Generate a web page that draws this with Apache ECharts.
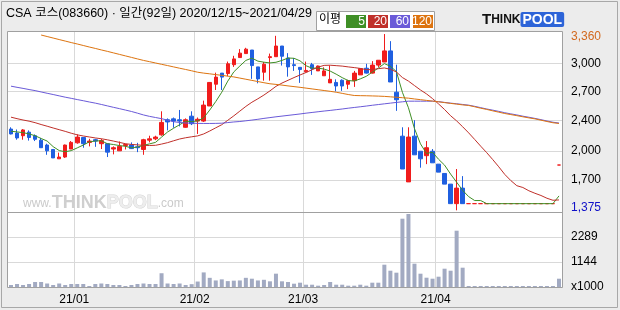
<!DOCTYPE html>
<html><head><meta charset="utf-8">
<script src="https://cdn.jsdelivr.net/npm/echarts@6/dist/echarts.min.js"></script>
<style>html,body{margin:0;padding:0;background:#ececec}#c{width:620px;height:310px}</style>
</head><body><div id="c"></div><script>
// ---- data ----
const dates = [
'2020-12-15','2020-12-16','2020-12-17','2020-12-18','2020-12-21','2020-12-22','2020-12-23','2020-12-24','2020-12-28','2020-12-29','2020-12-30',
'2021-01-04','2021-01-05','2021-01-06','2021-01-07','2021-01-08','2021-01-11','2021-01-12','2021-01-13','2021-01-14','2021-01-15','2021-01-18','2021-01-19','2021-01-20','2021-01-21','2021-01-22','2021-01-25','2021-01-26','2021-01-27','2021-01-28','2021-01-29',
'2021-02-01','2021-02-02','2021-02-03','2021-02-04','2021-02-05','2021-02-08','2021-02-09','2021-02-10','2021-02-15','2021-02-16','2021-02-17','2021-02-18','2021-02-19','2021-02-22','2021-02-23','2021-02-24','2021-02-25','2021-02-26',
'2021-03-02','2021-03-03','2021-03-04','2021-03-05','2021-03-08','2021-03-09','2021-03-10','2021-03-11','2021-03-12','2021-03-15','2021-03-16','2021-03-17','2021-03-18','2021-03-19','2021-03-22','2021-03-23','2021-03-24','2021-03-25','2021-03-26','2021-03-29','2021-03-30','2021-03-31',
'2021-04-01','2021-04-02','2021-04-05','2021-04-06','2021-04-07','2021-04-08','2021-04-09','2021-04-12','2021-04-13','2021-04-14','2021-04-15','2021-04-16','2021-04-19','2021-04-20','2021-04-21','2021-04-22','2021-04-23','2021-04-26','2021-04-27','2021-04-28','2021-04-29'];

const openP  = [2290,2245,2215,2255,2215,2165,2110,2060,1955,1975,2065,2135,2195,2140,2170,2125,2125,2065,2045,2105,2110,2090,2060,2165,2180,2225,2395,2405,2395,2310,2435,2380,2380,2550,2795,2920,2915,3015,3095,3140,3180,2990,2930,3095,3105,3225,3090,3015,2985,2935,3015,2945,2890,2810,2815,2840,2795,2835,2900,2975,2920,3010,3045,3170,2705,2210,1695,2210,2040,1990,2040,1895,1790,1670,1450,1625,1450,1450,1450,1450,1450,1450,1450,1450,1450,1450,1450,1450,1450,1450,1450,1885];
const closeP = [2235,2190,2280,2195,2175,2080,2045,1965,1975,2110,2140,2200,2125,2155,2155,2160,2030,2080,2095,2115,2070,2080,2170,2180,2200,2365,2370,2380,2380,2395,2350,2400,2560,2815,2875,2875,3025,3080,3145,3190,3005,2855,3020,3105,3225,3110,2990,3005,2960,2950,2970,3000,2945,2850,2775,2775,2835,2920,2970,2920,3010,3065,3170,2820,2620,1840,2200,2000,1955,2080,1910,1805,1670,1450,1625,1450,1450,1450,1450,1450,1450,1450,1450,1450,1450,1450,1450,1450,1450,1450,1450,1885];
const lowP   = [2230,2170,2170,2160,2155,2080,2000,1965,1955,1965,2065,2125,2080,2095,2090,2065,1975,2005,2045,2060,2065,2030,2000,2140,2165,2215,2275,2305,2320,2305,2335,2235,2370,2550,2730,2730,2885,2990,3095,3140,2855,2805,2835,2835,3105,3005,2880,2945,2810,2930,2900,2945,2890,2810,2715,2720,2740,2765,2900,2915,2915,2985,3045,2820,2495,1840,1695,2000,1855,1895,1910,1805,1670,1450,1375,1450,1450,1450,1450,1450,1450,1450,1450,1450,1450,1450,1450,1450,1450,1450,1450,1885];
const highP  = [2310,2285,2290,2275,2230,2190,2125,2065,2025,2115,2155,2230,2200,2180,2180,2180,2125,2095,2150,2125,2140,2135,2180,2215,2215,2490,2410,2420,2505,2410,2490,2420,2610,2820,2925,2920,3050,3115,3190,3205,3180,2990,3045,3140,3340,3225,3145,3090,2985,3050,3035,3005,2985,3005,2850,2850,2845,2945,2970,3025,3055,3065,3360,3280,3015,2310,2310,2390,2040,2155,2065,1895,1790,1670,1840,1760,1450,1450,1450,1450,1450,1450,1450,1450,1450,1450,1450,1450,1450,1450,1450,1885];
const volume = [92,137,92,137,229,229,160,92,160,92,137,137,137,46,137,160,137,92,92,46,92,137,160,137,137,630,160,137,160,92,130,250,668,420,300,350,270,290,300,420,380,300,330,260,610,260,229,151,197,105,105,60,92,229,105,105,60,60,105,60,197,197,1021,746,655,3127,3342,1067,609,426,380,472,838,746,2577,884,0,0,0,0,0,0,0,0,0,0,0,0,0,0,0,380];
const ma5   = [2265,2258,2250,2235,2215,2184,2155,2092,2048,2035,2047,2078,2110,2146,2155,2159,2125,2116,2104,2096,2078,2088,2106,2123,2140,2199,2257,2299,2339,2378,2375,2381,2417,2504,2600,2705,2830,2934,3000,3063,3089,3055,3043,3035,3042,3063,3090,3087,3058,3003,2975,2977,2965,2943,2908,2869,2836,2831,2855,2884,2931,2977,3027,2997,2937,2703,2530,2296,2123,2015,2029,1950,1884,1783,1692,1600,1529,1485,1485,1450,1450,1450,1450,1450,1450,1450,1450,1450,1450,1450,1450,1537];
const ma20  = [2424,2407,2392,2379,2362,2341,2322,2302,2283,2264,2243,2225,2212,2201,2190,2181,2169,2155,2140,2125,2117,2112,2106,2105,2107,2121,2137,2158,2178,2192,2203,2213,2235,2268,2304,2339,2389,2439,2492,2545,2592,2631,2673,2720,2771,2808,2839,2870,2899,2927,2958,2988,3007,3009,3004,2999,2990,2982,2973,2959,2960,2970,2978,2963,2933,2870,2830,2780,2730,2686,2633,2573,2510,2440,2382,2316,2247,2173,2097,2024,1946,1865,1779,1710,1652,1632,1595,1567,1542,1511,1488,1492];
const ma60  = [2773,2760,2748,2735,2723,2708,2693,2679,2664,2649,2636,2622,2609,2595,2582,2567,2551,2535,2520,2504,2488,2469,2449,2433,2420,2407,2390,2373,2364,2358,2356,2354,2353,2353,2354,2356,2363,2370,2375,2383,2391,2400,2410,2419,2428,2436,2444,2452,2460,2469,2477,2485,2493,2500,2508,2516,2525,2533,2541,2549,2558,2566,2574,2582,2590,2597,2604,2604,2604,2604,2604,2599,2590,2582,2575,2567,2559,2546,2531,2516,2503,2489,2474,2461,2449,2435,2423,2410,2396,2381,2367,2358];
const ma120 = [null,null,null,null,null,3349,3332,3315,3298,3281,3264,3248,3231,3214,3198,3181,3165,3148,3131,3114,3097,3080,3063,3049,3034,3019,3005,2990,2975,2961,2946,2930,2920,2912,2903,2895,2886,2877,2864,2851,2838,2825,2812,2800,2793,2785,2776,2768,2760,2751,2742,2733,2724,2715,2705,2692,2679,2668,2666,2665,2663,2661,2658,2653,2648,2643,2638,2629,2621,2613,2605,2597,2588,2579,2571,2562,2556,2541,2525,2511,2495,2480,2465,2453,2441,2428,2416,2405,2390,2375,2361,2353];

// price axis: gridline values and their (rounded) tick labels
const priceGridValues = [1716, 2043, 2384, 2711, 3031];
const priceTickLabels = ['1,700', '2,000', '2,400', '2,700', '3,000'];
const priceAxisMin = 1356, priceAxisMax = 3383;
const volTickLabels = ['x1000', '1144', '2289', ''];
const volAxisMax = 3433.5, volInterval = 1144.5;
const maNames = ['5', '20', '60', '120'];
const maColors = ['#3f8f26', '#c0302a', '#6a5ad8', '#dd7410'];

// ---- chart ----
const hiVal = Math.max(...highP), loVal = Math.min(...lowP);
const fmt = v => v.toLocaleString('en-US');
const isMonthStart = i => i > 0 && dates[i].slice(5, 7) !== dates[i - 1].slice(5, 7);
const candle = dates.map((d, i) => [openP[i], closeP[i], lowP[i], highP[i]]);
const FONT = '"Liberation Sans", "Noto Sans CJK KR", sans-serif';

const chart = echarts.init(document.getElementById('c'));
const xBase = {
  type: 'category', data: dates, boundaryGap: true,
  axisLine: {show: false}, axisTick: {show: false},
  splitLine: {show: true, interval: (i) => isMonthStart(i), lineStyle: {color: '#d9d9d9', width: 1}}
};
const maSeries = [ma5, ma20, ma60, ma120].map((arr, k) => ({
  type: 'line', name: 'MA' + maNames[k], data: arr, xAxisIndex: 0, yAxisIndex: 0,
  symbol: 'none', smooth: false, connectNulls: false, z: 3 + k,
  lineStyle: {color: maColors[k], width: 1}
}));
maSeries.reverse();

chart.setOption({
  animation: false,
  backgroundColor: '#ececec',
  grid: [
    {left: 8, top: 32, width: 554, height: 180, show: true, backgroundColor: '#fff', borderWidth: 0},
    {left: 8, top: 212, width: 554, height: 75, show: true, backgroundColor: '#fff', borderWidth: 0}
  ],
  xAxis: [
    Object.assign({gridIndex: 0, axisLabel: {show: false}}, xBase),
    Object.assign({gridIndex: 1, axisLabel: {
      show: true, interval: (i) => isMonthStart(i), margin: 7,
      formatter: (v) => v.slice(2, 4) + '/' + v.slice(5, 7),
      color: '#000', fontSize: 12, fontFamily: FONT, padding: [0, 6, 0, 0]
    }}, xBase)
  ],
  yAxis: [
    {gridIndex: 0, type: 'value', position: 'right', min: priceAxisMin, max: priceAxisMax,
     axisLine: {show: false}, axisTick: {show: false, customValues: priceGridValues},
     splitLine: {show: true, lineStyle: {color: '#d9d9d9', width: 1}},
     axisLabel: {
       customValues: [loVal].concat(priceGridValues, [hiVal]),
       margin: 9, color: '#000', fontSize: 12, fontFamily: FONT,
       formatter: (v) => {
         if (v === hiVal) return '{hi|' + fmt(v) + '}';
         if (v === loVal) return '{lo|' + fmt(v) + '}';
         const k = priceGridValues.indexOf(v);
         return k >= 0 ? priceTickLabels[k] : '';
       },
       rich: {
         hi: {color: '#d2691e', fontSize: 12, fontFamily: FONT, padding: [6, 0, 0, 0]},
         lo: {color: '#1010c8', fontSize: 12, fontFamily: FONT, padding: [0, 0, 6, 0]}
       }
     }},
    {gridIndex: 1, type: 'value', position: 'right', min: 0, max: volAxisMax, interval: volInterval,
     axisLine: {show: false}, axisTick: {show: false},
     splitLine: {show: true, lineStyle: {color: '#d9d9d9', width: 1}},
     axisLabel: {margin: 9, color: '#000', fontSize: 12, fontFamily: FONT,
       formatter: (v, idx) => volTickLabels[idx] || ''}}
  ],
  series: [
    {type: 'bar', data: volume, xAxisIndex: 1, yAxisIndex: 1, barWidth: 4, barMinHeight: 1,
     itemStyle: {color: '#a2aac2'}},
    {type: 'candlestick', data: candle, xAxisIndex: 0, yAxisIndex: 0, barWidth: 4, z: 2,
     itemStyle: {color: '#f01c1c', color0: '#1f5fe0', borderColor: '#f01c1c', borderColor0: '#1f5fe0',
                 borderColorDoji: '#f01c1c', borderWidth: 1}}
  ].concat(maSeries),
  graphic: [
    // outer frame
    {type: 'rect', shape: {x: 1.5, y: 1.5, width: 616, height: 306}, style: {fill: null, stroke: '#a8a8a8', lineWidth: 1}, z: 100, silent: true},
    // plot frame
    {type: 'rect', shape: {x: 7.5, y: 31.5, width: 555, height: 256}, style: {fill: null, stroke: '#a0a0a0', lineWidth: 1}, z: 100, silent: true},
    {type: 'line', shape: {x1: 7.5, y1: 212.5, x2: 562.5, y2: 212.5}, style: {stroke: '#a0a0a0', lineWidth: 1}, z: 100, silent: true},
    // header
    {type: 'text', left: 6, top: 7, z: 100, style: {text: 'CSA 코스(083660) · 일간(92일) 2020/12/15~2021/04/29', fill: '#000', font: '12.5px ' + FONT}},
    // legend
    {type: 'rect', shape: {x: 316.5, y: 11.5, width: 118, height: 19}, style: {fill: '#fff', stroke: '#a0a0a0', lineWidth: 1}, z: 100},
    {type: 'text', left: 319, top: 14, z: 101, style: {text: '이평', fill: '#000', font: '12px ' + FONT}},
  ].concat(maNames.map((n, k) => ({
    type: 'group', left: 346 + k * 22, top: 15, z: 101, children: [
      {type: 'rect', shape: {x: 0, y: 0, width: 20, height: 13}, style: {fill: maColors[k]}, z: 101},
      {type: 'text', style: {x: 19, y: 0.5, text: n, fill: '#fff', font: '12px ' + FONT, textAlign: 'right'}, z: 102}
    ]
  }))).concat([
    // logo
    {type: 'text', left: 482, top: 12, z: 100, style: {rich: {
      t: {font: 'bold 15px "Liberation Sans", sans-serif', fill: '#111'},
      k: {font: 'bold 12px "Liberation Sans", sans-serif', fill: '#111'},
      p: {font: 'bold 14px "Liberation Sans", sans-serif', fill: '#fff', backgroundColor: '#2d64d8', padding: [1, 2, 0, 2], borderRadius: 2}
    }, text: '{t|T}{k|HINK}{p|POOL}'}},
    // watermark
    {type: 'text', left: 23, top: 194, z: 1, silent: true, style: {rich: {
      a: {font: '12px "Liberation Sans", sans-serif', fill: '#cacaca'},
      b: {font: 'bold 18px "Liberation Sans", sans-serif', fill: '#cfcfcf'},
      c: {font: 'bold 18px "Liberation Sans", sans-serif', fill: '#ededed', stroke: '#d6d6d6', lineWidth: 1}
    }, text: '{a|www.}{b|THINK}{c|POOL}{a|.com}'}}
  ])
});
</script></body></html>
